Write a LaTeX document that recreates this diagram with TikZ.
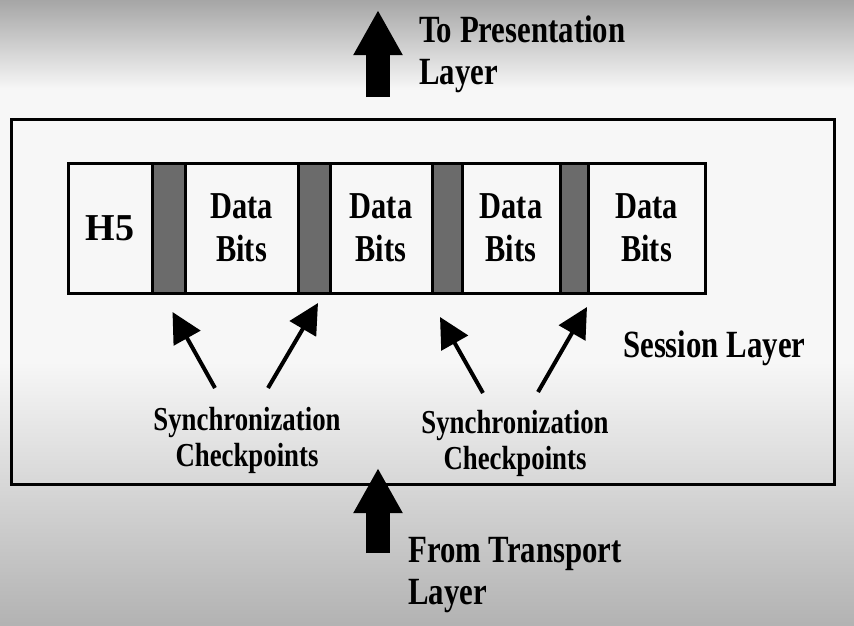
\documentclass[tikz,border=0pt]{standalone}
\usepackage{fontspec}
\setmainfont[FakeStretch=0.8]{Liberation Serif}
\newfontfamily\widefont{Liberation Serif}
\usepackage{tikz}
\usetikzlibrary{positioning,arrows.meta}

\tikzset{
    cell/.style={draw=black, line width=3pt, fill=white!97!black, outer sep=0pt,
                 minimum height=130pt, anchor=west, align=center,
                 font=\bfseries\fontsize{38}{43}\selectfont},
    syncbar/.style={cell, fill=black!58},
    chkarrow/.style={-{Triangle[length=30pt,width=30pt]}, line width=4pt},
    blockarrow/.style={-{Triangle[length=45pt,width=46pt]}, line width=24pt},
    layerlabel/.style={anchor=west, align=left, font=\bfseries\fontsize{38.5}{42}\selectfont},
    chklabel/.style={align=center, font=\bfseries\fontsize{33.5}{36}\selectfont}
}

\begin{document}
\begin{tikzpicture}[x=1pt,y=1pt]
                \tikzstyle{every node}+=[inner sep=0pt]
                \shade [top color=black!35, bottom color=white!97!black] (0,0) rectangle (854,-90);
                \fill [white!97!black] (0,-90) rectangle (854,-360);
                \shade [top color=white!97!black, bottom color=black!30] (0,-360) rectangle (854,-625);
                \useasboundingbox (0,0) rectangle (854,-625);
                \node [draw=black, line width=2.5pt, minimum width=823pt, minimum height=365pt,
                       anchor=north west] (session) at (10,-118) {};
                \node [cell, minimum width=84pt, font=\widefont\bfseries\fontsize{38}{40}\selectfont] (h5) at (68,-228) {H5};
                \node [syncbar, minimum width=33pt, right=0pt of h5] (s1) {};
                \node [cell, minimum width=113pt, right=0pt of s1] (d1) {Data\\Bits};
                \node [syncbar, minimum width=32pt, right=0pt of d1] (s2) {};
                \node [cell, minimum width=102pt, right=0pt of s2] (d2) {Data\\Bits};
                \node [syncbar, minimum width=30pt, right=0pt of d2] (s3) {};
                \node [cell, minimum width=98pt, right=0pt of s3] (d3) {Data\\Bits};
                \node [syncbar, minimum width=28pt, right=0pt of d3] (s4) {};
                \node [cell, minimum width=117pt, right=0pt of s4] (d4) {Data\\Bits};
                \node [layerlabel] (sesslbl) at (623,-348) {Session Layer};
                \node [chklabel] (chk1) at (247,-440) {Synchronization\\Checkpoints};
                \node [chklabel] (chk2) at (515,-443) {Synchronization\\Checkpoints};
                \coordinate (c1) at (215,-388);
                \coordinate (c2) at (268,-388);
                \coordinate (c3) at (483,-393);
                \coordinate (c4) at (538,-392);
                \draw [chkarrow] (c1) -- ([xshift=4pt,yshift=-19pt]s1.south);
                \draw [chkarrow] (c2) -- ([xshift=4pt,yshift=-10pt]s2.south);
                \draw [chkarrow] (c3) -- ([xshift=-7pt,yshift=-24pt]s3.south);
                \draw [chkarrow] (c4) -- ([xshift=13pt,yshift=-14pt]s4.south);
                \coordinate (uptail) at (378,-97);
                \coordinate (uptip) at (378,-10);
                \draw [blockarrow] (uptail) -- (uptip);
                \node [layerlabel] (presentation) at (419,-54) {To Presentation\\Layer};
                \coordinate (intail) at (378,-553);
                \coordinate (intip) at (378,-468);
                \draw [blockarrow] (intail) -- (intip);
                \node [layerlabel] (transport) at (408,-575) {From Transport\\Layer};
\end{tikzpicture}
\end{document}
